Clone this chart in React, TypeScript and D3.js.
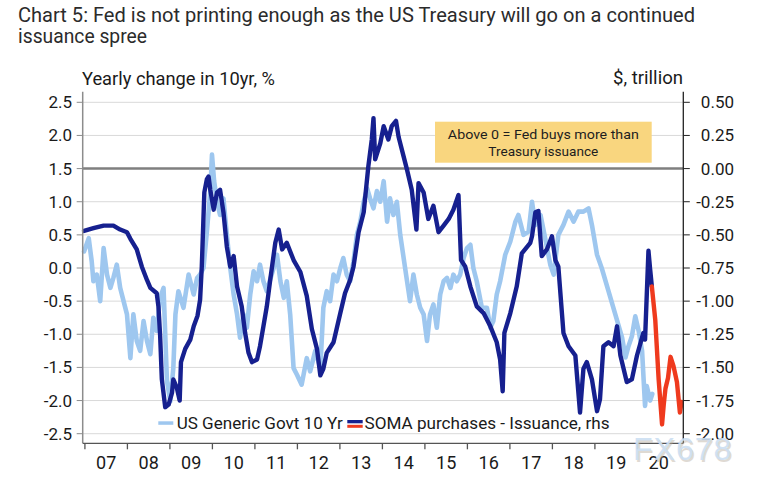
import React from "react";
import * as d3 from "d3";

const W = 762;
const H = 484;

const titleLines = [
  "Chart 5: Fed is not printing enough as the US Treasury will go on a continued",
  "issuance spree",
];
const leftAxisTitle = "Yearly change in 10yr, %";
const rightAxisTitle = "$, trillion";
const noteLines = ["Above 0 = Fed buys more than", "Treasury issuance"];
const legendLabels = ["US Generic Govt 10 Yr", "SOMA purchases - Issuance, rhs"];

const leftTicks = [2.5, 2.0, 1.5, 1.0, 0.5, 0.0, -0.5, -1.0, -1.5, -2.0, -2.5];
const rightTicks = [0.5, 0.25, 0.0, -0.25, -0.5, -0.75, -1.0, -1.25, -1.5, -1.75, -2.0];
const yearTicks = [2007, 2008, 2009, 2010, 2011, 2012, 2013, 2014, 2015, 2016, 2017, 2018, 2019, 2020];
const yearLabels = ["07", "08", "09", "10", "11", "12", "13", "14", "15", "16", "17", "18", "19", "20"];

// US Generic Govt 10 Yr, yearly change (%), left axis
const us10y: [number, number][] = [
  [2006.98, 0.25], [2007.09, 0.45], [2007.16, 0.1], [2007.2, -0.2], [2007.28, -0.1], [2007.36, -0.5],
  [2007.44, 0.3], [2007.52, -0.1], [2007.6, -0.3], [2007.67, -0.15], [2007.75, 0.05], [2007.83, -0.3],
  [2007.91, -0.5], [2007.99, -0.7], [2008.07, -1.36], [2008.14, -0.7], [2008.22, -1.1], [2008.3, -1.25],
  [2008.38, -0.8], [2008.46, -1.1], [2008.54, -1.3], [2008.61, -0.75], [2008.69, -0.95], [2008.77, -0.45],
  [2008.85, -0.3], [2008.93, -1.7], [2009.01, -2.01], [2009.08, -1.51], [2009.13, -0.7], [2009.2, -0.35],
  [2009.32, -0.6], [2009.44, -0.1], [2009.56, -0.4], [2009.64, -0.15], [2009.71, -0.1], [2009.79, 0.0],
  [2009.87, 0.55], [2009.95, 1.16], [2009.99, 1.71], [2010.04, 1.31], [2010.11, 1.0], [2010.18, 0.8],
  [2010.26, 1.05], [2010.34, 0.5], [2010.42, 0.0], [2010.5, -0.4], [2010.58, -0.7], [2010.65, -1.05],
  [2010.73, -0.7], [2010.81, -0.9], [2010.89, -0.4], [2010.97, -0.05], [2011.05, -0.2], [2011.12, 0.05],
  [2011.2, -0.2], [2011.28, -0.35], [2011.44, 0.0], [2011.52, 0.2], [2011.6, -0.2], [2011.68, -0.45],
  [2011.75, -0.2], [2011.83, -0.7], [2011.91, -1.51], [2011.99, -1.61], [2012.1, -1.76], [2012.22, -1.36],
  [2012.3, -1.56], [2012.42, -1.25], [2012.54, -1.51], [2012.61, -0.6], [2012.69, -0.35], [2012.77, -0.5],
  [2012.85, -0.1], [2012.93, -0.2], [2013.01, 0.0], [2013.08, 0.15], [2013.16, -0.1], [2013.24, -0.2],
  [2013.32, 0.1], [2013.4, 0.5], [2013.48, 0.7], [2013.56, 1.0], [2013.64, 1.2], [2013.71, 1.05],
  [2013.79, 0.9], [2013.87, 1.16], [2013.95, 1.0], [2014.03, 1.31], [2014.11, 0.7], [2014.18, 1.05],
  [2014.26, 0.8], [2014.34, 1.0], [2014.42, 0.5], [2014.5, 0.15], [2014.58, -0.2], [2014.65, -0.5],
  [2014.73, -0.1], [2014.81, -0.4], [2014.89, -0.6], [2014.97, -0.7], [2015.05, -1.1], [2015.12, -0.7],
  [2015.2, -0.55], [2015.28, -0.9], [2015.36, -0.4], [2015.44, -0.2], [2015.52, -0.15], [2015.6, -0.3],
  [2015.67, -0.1], [2015.75, -0.2], [2015.83, -0.1], [2015.91, 0.15], [2015.99, 0.3], [2016.07, 0.35],
  [2016.14, 0.0], [2016.22, -0.2], [2016.34, -0.6], [2016.46, -0.6], [2016.54, -0.9], [2016.61, -0.8],
  [2016.69, -0.4], [2016.77, -0.2], [2016.89, 0.2], [2017.01, 0.4], [2017.13, 0.7], [2017.2, 0.8],
  [2017.32, 0.5], [2017.44, 0.55], [2017.52, 1.0], [2017.6, 0.65], [2017.72, 0.8], [2017.83, 0.45],
  [2017.95, 0.05], [2018.03, -0.1], [2018.14, 0.5], [2018.26, 0.65], [2018.38, 0.85], [2018.5, 0.7],
  [2018.61, 0.85], [2018.73, 0.85], [2018.85, 0.9], [2018.93, 0.65], [2019.05, 0.2], [2019.16, 0.0],
  [2019.32, -0.35], [2019.48, -0.7], [2019.64, -1.05], [2019.72, -1.35], [2019.79, -1.18], [2019.87, -1.03],
  [2019.95, -0.73], [2020.03, -0.95], [2020.11, -1.25], [2020.18, -2.08], [2020.22, -1.78], [2020.3, -2.0],
  [2020.35, -1.9],
];

// SOMA purchases - Issuance ($ trillion), right axis
const soma: [number, number][] = [
  [2006.98, -0.47], [2007.2, -0.45], [2007.44, -0.43], [2007.67, -0.43], [2007.83, -0.46], [2007.99, -0.48],
  [2008.07, -0.53], [2008.22, -0.61], [2008.34, -0.74], [2008.46, -0.84], [2008.54, -0.9], [2008.69, -0.94],
  [2008.73, -1.04], [2008.77, -1.26], [2008.81, -1.59], [2008.89, -1.8], [2008.97, -1.78], [2009.05, -1.69],
  [2009.08, -1.59], [2009.16, -1.65], [2009.23, -1.75], [2009.26, -1.46], [2009.36, -1.36], [2009.48, -1.29],
  [2009.56, -1.19], [2009.65, -1.11], [2009.71, -0.99], [2009.75, -0.74], [2009.81, -0.18], [2009.87, -0.08],
  [2009.91, -0.06], [2009.95, -0.16], [2010.03, -0.31], [2010.11, -0.18], [2010.18, -0.16], [2010.26, -0.33],
  [2010.34, -0.59], [2010.42, -0.74], [2010.5, -0.66], [2010.58, -0.89], [2010.69, -1.04], [2010.77, -1.24],
  [2010.85, -1.39], [2010.93, -1.46], [2011.05, -1.44], [2011.12, -1.34], [2011.2, -1.19], [2011.28, -1.04],
  [2011.36, -0.84], [2011.48, -0.56], [2011.56, -0.46], [2011.64, -0.61], [2011.75, -0.56], [2011.91, -0.69],
  [2012.07, -0.78], [2012.22, -0.96], [2012.34, -1.21], [2012.46, -1.36], [2012.54, -1.56], [2012.61, -1.51],
  [2012.69, -1.39], [2012.85, -1.31], [2013.01, -1.09], [2013.12, -0.94], [2013.24, -0.84], [2013.32, -0.74],
  [2013.44, -0.48], [2013.56, -0.33], [2013.67, 0.02], [2013.75, 0.22], [2013.79, 0.38], [2013.83, 0.07],
  [2013.95, 0.19], [2014.03, 0.32], [2014.14, 0.22], [2014.22, 0.32], [2014.32, 0.36], [2014.38, 0.24],
  [2014.5, 0.09], [2014.58, -0.01], [2014.69, -0.16], [2014.8, -0.46], [2014.85, -0.11], [2014.97, -0.18],
  [2015.08, -0.38], [2015.2, -0.28], [2015.32, -0.48], [2015.44, -0.43], [2015.56, -0.38], [2015.67, -0.31],
  [2015.79, -0.2], [2015.85, -0.69], [2015.95, -0.74], [2016.07, -0.89], [2016.22, -1.04], [2016.38, -1.09],
  [2016.54, -1.19], [2016.69, -1.31], [2016.77, -1.44], [2016.83, -1.68], [2016.87, -1.24], [2017.01, -1.09],
  [2017.16, -0.89], [2017.28, -0.64], [2017.48, -0.56], [2017.52, -0.51], [2017.6, -0.33], [2017.67, -0.32],
  [2017.75, -0.66], [2017.87, -0.61], [2017.99, -0.51], [2018.07, -0.69], [2018.14, -0.74], [2018.26, -1.24],
  [2018.38, -1.34], [2018.54, -1.41], [2018.65, -1.84], [2018.73, -1.51], [2018.81, -1.46], [2018.93, -1.59],
  [2019.05, -1.83], [2019.12, -1.74], [2019.2, -1.34], [2019.32, -1.31], [2019.44, -1.34], [2019.52, -1.19],
  [2019.6, -1.41], [2019.75, -1.61], [2019.87, -1.59], [2019.99, -1.41], [2020.14, -1.24], [2020.18, -1.29],
  [2020.26, -0.62], [2020.3, -0.76], [2020.34, -0.89],
];

// Projection (red), right axis
const somaProjection: [number, number][] = [
  [2020.34, -0.89], [2020.42, -1.14], [2020.5, -1.59], [2020.58, -1.93], [2020.62, -1.78], [2020.66, -1.66],
  [2020.72, -1.58], [2020.78, -1.42], [2020.85, -1.49], [2020.93, -1.61], [2021.0, -1.84], [2021.04, -1.76],
];

const FONT = "Roboto, 'Open Sans', sans-serif";
const LIGHT = "#9ec7ef";
const DARK = "#16208f";
const RED = "#ef3a1e";

export default function App() {
  const left = 82.7;
  const right = 683.3;
  const top = 102.3;
  const bottom = 433.7;
  const axisY = 443.3;

  const x = d3.scaleLinear().domain([2006.948, 2021.08]).range([left, right]);
  const yL = d3.scaleLinear().domain([-2.5, 2.5]).range([bottom, top]);
  const yR = d3.scaleLinear().domain([-2.0, 0.5]).range([bottom, top]);

  const lineL = d3.line<[number, number]>().x((d) => x(d[0])).y((d) => yL(d[1]));
  const lineR = d3.line<[number, number]>().x((d) => x(d[0])).y((d) => yR(d[1]));

  const boxX0 = 435;
  const boxX1 = 651.7;
  const boxY0 = 121.7;
  const boxY1 = 162.7;

  return (
    <svg
      width={W}
      height={H}
      viewBox={`0 0 ${W} ${H}`}
      style={{ position: "absolute", left: 0, top: 0, background: "#fff" }}
    >
      <rect x={0} y={0} width={W} height={H} fill="#fff" />
      {/* Title */}
      <text x={18} y={21.5} fontFamily={FONT} fontSize={19.5} fill="#2b2b2b" textLength={677} lengthAdjust="spacingAndGlyphs">
        {titleLines[0]}
      </text>
      <text x={18} y={43} fontFamily={FONT} fontSize={19.5} fill="#2b2b2b" textLength={129} lengthAdjust="spacingAndGlyphs">
        {titleLines[1]}
      </text>

      {/* Axis titles */}
      <text x={82} y={85} fontFamily={FONT} fontSize={18} fill="#1a1a1a" textLength={193} lengthAdjust="spacingAndGlyphs">
        {leftAxisTitle}
      </text>
      <text x={613} y={83.5} fontFamily={FONT} fontSize={18} fill="#1a1a1a" textLength={70} lengthAdjust="spacingAndGlyphs">
        {rightAxisTitle}
      </text>

      {/* Gridlines */}
      {leftTicks
        .filter((t) => t !== 1.5)
        .map((t) => (
          <line key={"g" + t} x1={left} x2={right} y1={yL(t)} y2={yL(t)} stroke="#d9d9d9" strokeWidth={1} />
        ))}
      {/* Zero line of right axis */}
      <line x1={left} x2={right} y1={yR(0)} y2={yR(0)} stroke="#7f7f7f" strokeWidth={2.5} />

      {/* Annotation box */}
      <rect x={boxX0} y={boxY0} width={boxX1 - boxX0} height={boxY1 - boxY0} fill="#f9d67f" />
      <text x={(boxX0 + boxX1) / 2} y={139.3} textAnchor="middle" fontFamily={FONT} fontSize={13} fill="#1e1e1e" textLength={191} lengthAdjust="spacingAndGlyphs">
        {noteLines[0]}
      </text>
      <text x={(boxX0 + boxX1) / 2} y={155.7} textAnchor="middle" fontFamily={FONT} fontSize={13} fill="#1e1e1e" textLength={110} lengthAdjust="spacingAndGlyphs">
        {noteLines[1]}
      </text>

      {/* Series */}
      <path d={lineL(us10y) || ""} fill="none" stroke={LIGHT} strokeWidth={4.6} strokeLinejoin="round" strokeLinecap="round" />
      <path d={lineR(soma) || ""} fill="none" stroke={DARK} strokeWidth={4.4} strokeLinejoin="round" strokeLinecap="round" />
      <path d={lineR(somaProjection) || ""} fill="none" stroke={RED} strokeWidth={4.4} strokeLinejoin="round" strokeLinecap="round" />

      {/* Left axis */}
      <line x1={left} x2={left} y1={91.7} y2={axisY} stroke="#8c8c8c" strokeWidth={1.5} />
      {leftTicks.map((t) => (
        <g key={"l" + t}>
          <line x1={left - 6} x2={left} y1={yL(t)} y2={yL(t)} stroke="#8c8c8c" strokeWidth={1} />
          <text x={72} y={yL(t) + 6} textAnchor="end" fontFamily={FONT} fontSize={17} fill="#1a1a1a">
            {t.toFixed(1)}
          </text>
        </g>
      ))}

      {/* Right axis */}
      <line x1={right} x2={right} y1={91.7} y2={axisY} stroke="#222" strokeWidth={1.3} />
      {rightTicks.map((t) => (
        <g key={"r" + t}>
          <line x1={right} x2={right + 6.5} y1={yR(t)} y2={yR(t)} stroke="#222" strokeWidth={1} />
          <text x={734} y={yR(t) + 6} textAnchor="end" fontFamily={FONT} fontSize={17} fill="#1a1a1a">
            {t.toFixed(2)}
          </text>
        </g>
      ))}

      {/* Bottom axis */}
      <line x1={left} x2={right} y1={axisY} y2={axisY} stroke="#555" strokeWidth={1.3} />
      {yearTicks.map((yr, i) => (
        <g key={"x" + yr}>
          <line x1={x(yr)} x2={x(yr)} y1={axisY} y2={axisY + 6} stroke="#555" strokeWidth={1.3} />
          <text x={x(yr + 0.5)} y={468.5} textAnchor="middle" fontFamily={FONT} fontSize={18} fill="#1a1a1a">
            {yearLabels[i]}
          </text>
        </g>
      ))}

      {/* Legend */}
      <rect x={158.3} y={421.3} width={15} height={3.5} fill={LIGHT} />
      <text x={176.7} y={429} fontFamily={FONT} fontSize={17} fill="#1a1a1a" textLength={166} lengthAdjust="spacingAndGlyphs">
        {legendLabels[0]}
      </text>
      <rect x={347.3} y={420} width={15.4} height={3.3} fill={DARK} />
      <rect x={347.3} y={424.8} width={15.4} height={3} fill={RED} />
      <text x={364.5} y={429} fontFamily={FONT} fontSize={17} fill="#1a1a1a" textLength={245} lengthAdjust="spacingAndGlyphs">
        {legendLabels[1]}
      </text>

      {/* Watermark */}
      <text x={634.5} y={461.5} fontFamily="'Liberation Sans', Arial, sans-serif" fontSize={32} fill="#b9ae9f" opacity={0.45} letterSpacing={1}>
        FX678
      </text>
      <text x={633} y={460} fontFamily="'Liberation Sans', Arial, sans-serif" fontSize={32} fill="#cddff2" opacity={0.9} letterSpacing={1}>
        FX678
      </text>
    </svg>
  );
}
